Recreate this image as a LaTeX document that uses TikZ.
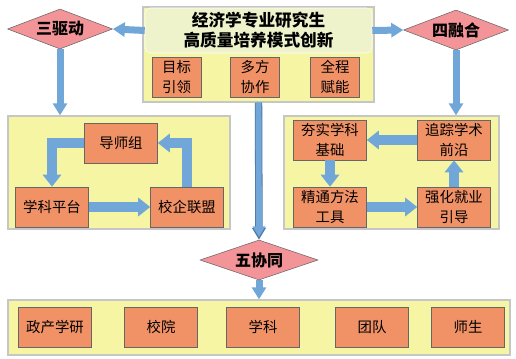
\documentclass[tikz,border=0pt]{standalone}
\usepackage{fontspec}
\setmainfont{Noto Sans CJK SC}
\usepackage{tikz}
\usetikzlibrary{arrows.meta, positioning, shapes.geometric}
\definecolor{panelfill}{RGB}{245,245,163}
\definecolor{headfill}{RGB}{238,243,204}
\definecolor{cellfill}{RGB}{241,145,102}
\definecolor{rhombfill}{RGB}{243,148,152}
\definecolor{flow}{RGB}{112,167,216}
\definecolor{flowdark}{RGB}{96,150,208}

\begin{document}
\begin{tikzpicture}[x=0.75pt, y=-0.75pt,
      panel/.style={rectangle, draw=gray!45, fill=panelfill, line width=1pt, inner sep=0pt},
      cell/.style={rectangle, draw=black!60, fill=cellfill, align=center, inner sep=1pt,
                   minimum width=54.75pt, minimum height=30pt,
                   font=\fontsize{10.8}{14.5}\selectfont},
      rhomb/.style={diamond, draw=black!60, fill=rhombfill, aspect=2.6, inner sep=0pt,
                    minimum width=78.75pt, minimum height=30pt,
                    font=\bfseries\fontsize{12}{14}\selectfont},
      arr/.style={-{Triangle[width=10.5pt, length=9pt]}, flow, line width=5.25pt},
      farr/.style={-{Triangle[width=13.5pt, length=9pt]}, flow, line width=7.5pt},
    ]
    \useasboundingbox (0,0) rectangle (516,359);
    % top: mode box
    \node[panel, minimum width=173.25pt, minimum height=71.25pt] (main) at (258.5,54.5) {};
    \node[rectangle, rounded corners=4pt, draw=white, fill=headfill, align=center,
          minimum width=170.25pt, minimum height=32.25pt,
          font=\bfseries\fontsize{12.5}{15}\selectfont] (head) at (258.5,30.5)
          {经济学专业研究生\\高质量培养模式创新};
    \node[cell, minimum width=36.75pt] (mubiao) at (176.5,77) {目标\\引领};
    \node[cell, minimum width=36.75pt] (duofang) at (255,77) {多方\\协作};
    \node[cell, minimum width=36.75pt] (quancheng) at (335,77) {全程\\赋能};
    % diamonds
    \node[rhomb] (sanqu) at (60,29) {三驱动};
    \node[rhomb] (sirong) at (456,30) {四融合};
    \node[rhomb, minimum width=88.5pt] (wuxie) at (259,260) {五协同};
    % left panel
    \node[panel, minimum width=166.5pt, minimum height=84.75pt] (lpanel) at (119,172.5) {};
    \node[cell] (daoshi) at (121,143) {导师组};
    \node[cell] (xueke) at (52,207) {学科平台};
    \node[cell] (xiaoqi) at (187,207) {校企联盟};
    % right panel
    \node[panel, minimum width=161.25pt, minimum height=84.75pt] (rpanel) at (391.5,172.5) {};
    \node[cell] (hangshi) at (330,140) {夯实学科\\基础};
    \node[cell] (zhuizong) at (454,140) {追踪学术\\前沿};
    \node[cell] (jingtong) at (330,207) {精通方法\\工具};
    \node[cell] (qianghua) at (454,207) {强化就业\\引导};
    % bottom panel
    \node[panel, minimum width=376.5pt, minimum height=41.25pt] (bpanel) at (259,327.5) {};
    \node[cell] (zhengchan) at (55,327) {政产学研};
    \node[cell] (xiaoyuan) at (161,327) {校院};
    \node[cell] (xuekeb) at (263,327) {学科};
    \node[cell] (tuandui) at (372,327) {团队};
    \node[cell] (shisheng) at (468,327) {师生};
    % connectors
    \draw[arr] (head.west) -- (sanqu.east);
    \draw[arr] (head.east) -- (sirong.west);
    \draw[arr] (sanqu.south) -- (sanqu.south |- lpanel.north);
    \draw[arr] (sirong.south) -- (sirong.south |- rpanel.north);
    \draw[-{Triangle[width=10pt, length=9pt]}, flowdark!80!black, line width=5.6pt] (main.south) -- (wuxie.north);
    \draw[-{Triangle[width=9pt, length=8pt]}, flow, line width=4.4pt] (main.south) -- ([yshift=2pt]wuxie.north);
    \draw[arr] (wuxie.south) -- (bpanel.north);
    \draw[farr] (daoshi.west) -| (xueke.north);
    \draw[farr] (xueke) -- (xiaoqi);
    \draw[farr] (xiaoqi.north) |- (daoshi.east);
    \draw[farr] (zhuizong) -- (hangshi);
    \draw[farr] (hangshi) -- (jingtong);
    \draw[farr] (jingtong) -- (qianghua);
    \draw[farr] (qianghua) -- (zhuizong);
  \end{tikzpicture}
\end{document}
